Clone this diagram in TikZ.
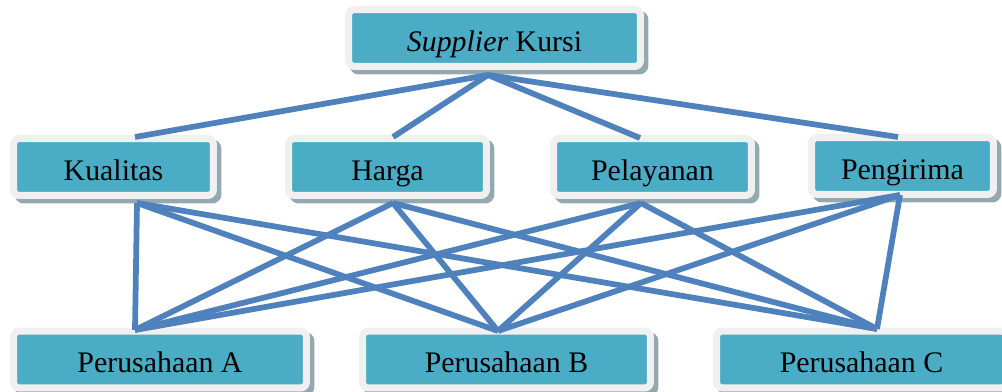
\documentclass[tikz,border=0pt]{standalone}
\usepackage{fontspec}
\setmainfont{Liberation Serif}
\usepackage{tikz}
\usetikzlibrary{shadows}
\definecolor{boxfill}{HTML}{4BACC6}
\definecolor{boxrim}{HTML}{F0F0F0}
\definecolor{boxshadow}{HTML}{93A9AF}
\definecolor{linkblue}{HTML}{4F81BD}
\tikzset{
  crit box/.style={rectangle, rounded corners=0.12cm, fill=boxfill,
                   draw=boxrim, line width=0.14cm, inner sep=0pt,
                   minimum width=#1, minimum height=1.14cm,
                   text height=19pt, text depth=4pt,
                   font=\fontsize{17}{20}\selectfont,
                   drop shadow={shadow xshift=0.09cm, shadow yshift=-0.09cm,
                                fill=boxshadow, draw=boxshadow, opacity=1}},
  link/.style={draw=linkblue, line width=0.115cm}
}

\begin{document}
\begin{tikzpicture}[x=0.02cm, y=-0.02cm]
\useasboundingbox (0,0) rectangle (1002,392);

% the boxes
\node[crit box=5.84cm] (supplier)   at (494.5,38)  {\textit{Supplier} Kursi};
\node[crit box=4cm]    (kualitas)   at (113.5,167) {Kualitas};
\node[crit box=3.96cm] (harga)      at (387.5,167) {Harga};
\node[crit box=3.96cm] (pelayanan)  at (652.5,167) {Pelayanan};
\node[crit box=3.64cm] (pengiriman) at (902.5,166) {Pengirima};
\node[crit box=5.86cm] (pa) at (160,359.5)   {Perusahaan A};
\node[crit box=5.76cm] (pb) at (506.5,359.5) {Perusahaan B};
\node[crit box=5.8cm]  (pc) at (861.5,359.5) {Perusahaan C};

% the link ends
\coordinate (supplier-out)   at (488,75);
\coordinate (kualitas-in)    at (135,137);
\coordinate (harga-in)       at (393,137);
\coordinate (pelayanan-in)   at (640,138);
\coordinate (pengiriman-in)  at (898,137);
\coordinate (kualitas-out)   at (137,203);
\coordinate (harga-out)      at (393,203);
\coordinate (pelayanan-out)  at (641,203);
\coordinate (pengiriman-out) at (900,195);
\coordinate (pa-in) at (135,330);
\coordinate (pb-in) at (498,331);
\coordinate (pc-in) at (877,329);

% the links
\foreach \crit in {kualitas,harga,pelayanan,pengiriman}
  \draw[link] (supplier-out) -- (\crit-in);
\foreach \crit in {kualitas,harga,pelayanan,pengiriman}
  \foreach \firm in {pa,pb,pc}
    \draw[link] (\crit-out) -- (\firm-in);
\end{tikzpicture}
\end{document}
